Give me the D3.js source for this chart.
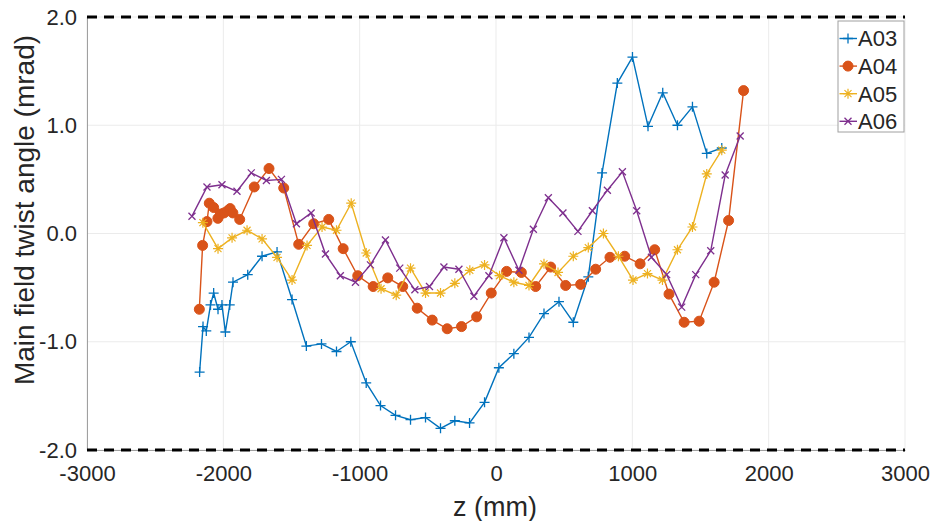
<!DOCTYPE html>
<html><head><meta charset="utf-8">
<script src="https://cdn.jsdelivr.net/npm/d3@7"></script>
<style>body{margin:0;background:#fff}svg{display:block}text{font-family:"Liberation Sans",Arial,sans-serif;fill:#262626}</style>
</head><body><svg id="c" width="935" height="521"></svg>
<script>
const seriesNames = ["A03","A04","A05","A06"];
const colors = ["#0072BD","#D95319","#EDB120","#7E2F8E"];
const xTicks = [-3000,-2000,-1000,0,1000,2000,3000];
const xTickLabels = ["-3000","-2000","-1000","0","1000","2000","3000"];
const yTicks = [-2,-1,0,1,2];
const yTickLabels = ["-2.0","-1.0","0.0","1.0","2.0"];
const limitLines = [2,-2];

const a03z = [-2174,-2149,-2125,-2094,-2071,-2039,-2010,-1985,-1953,-1929,-1821,-1716,-1606,-1496,-1391,-1280,-1170,-1065,-952,-847,-737,-627,-517,-407,-302,-194,-84,21,131,242,352,462,567,677,778,890,1001,1115,1223,1331,1441,1546,1656];
const a03v = [-1.28,-0.86,-0.90,-0.66,-0.55,-0.70,-0.66,-0.91,-0.66,-0.45,-0.38,-0.21,-0.17,-0.61,-1.04,-1.02,-1.09,-1.00,-1.38,-1.59,-1.68,-1.72,-1.70,-1.80,-1.73,-1.75,-1.56,-1.24,-1.11,-0.96,-0.74,-0.63,-0.82,-0.40,0.56,1.39,1.63,0.99,1.30,1.00,1.17,0.74,0.79];

const a04z = [-2176,-2152,-2120,-2103,-2071,-2040,-2020,-1995,-1968,-1950,-1930,-1880,-1773,-1665,-1557,-1447,-1337,-1227,-1121,-1014,-901,-794,-684,-578,-468,-358,-253,-142,-35,78,186,291,401,511,621,731,836,944,1057,1164,1269,1380,1490,1600,1706,1816];
const a04v = [-0.70,-0.11,0.11,0.28,0.24,0.14,0.18,0.19,0.21,0.23,0.19,0.13,0.43,0.60,0.42,-0.10,0.09,0.13,-0.14,-0.39,-0.49,-0.41,-0.49,-0.69,-0.80,-0.88,-0.86,-0.77,-0.55,-0.35,-0.36,-0.49,-0.31,-0.48,-0.47,-0.33,-0.22,-0.21,-0.28,-0.15,-0.56,-0.82,-0.81,-0.45,0.12,1.32];

const a05z = [-2150,-2039,-1936,-1826,-1716,-1606,-1496,-1386,-1276,-1170,-1062,-952,-843,-732,-627,-517,-407,-302,-192,-84,26,131,242,352,455,567,677,788,898,1005,1111,1221,1331,1441,1546,1656];
const a05v = [0.10,-0.14,-0.04,0.03,-0.05,-0.22,-0.43,-0.11,0.06,0.03,0.28,-0.18,-0.51,-0.57,-0.32,-0.55,-0.55,-0.46,-0.34,-0.29,-0.39,-0.45,-0.48,-0.28,-0.36,-0.21,-0.13,0.00,-0.21,-0.43,-0.37,-0.43,-0.15,0.06,0.55,0.77];

const a06z = [-2230,-2120,-2010,-1900,-1795,-1684,-1574,-1464,-1356,-1251,-1142,-1031,-921,-811,-706,-595,-488,-382,-272,-162,-52,58,168,274,384,491,601,707,817,927,1032,1140,1252,1362,1465,1575,1681,1791];
const a06v = [0.16,0.43,0.45,0.39,0.56,0.49,0.50,0.09,0.19,-0.19,-0.39,-0.45,-0.29,-0.06,-0.32,-0.52,-0.49,-0.31,-0.33,-0.58,-0.39,-0.04,-0.34,0.04,0.33,0.19,0.02,0.21,0.40,0.57,0.21,-0.22,-0.38,-0.68,-0.38,-0.16,0.54,0.90];

const zs = [a03z,a04z,a05z,a06z], vs = [a03v,a04v,a05v,a06v];
const markers = ["plus","circle","star","cross"];

const svg = d3.select("#c");
const L=87, R=905, T=17, B=450;
const x = d3.scaleLinear().domain([-3000,3000]).range([L,R]);
const y = d3.scaleLinear().domain([-2,2]).range([B,T]);

// grid
const g = svg.append("g");
g.selectAll("line.gx").data(xTicks).join("line").attr("x1",d=>x(d)).attr("x2",d=>x(d)).attr("y1",T).attr("y2",B).attr("stroke","#ebebeb").attr("stroke-width",1);
g.selectAll("line.gy").data(yTicks).join("line").attr("x1",L).attr("x2",R).attr("y1",d=>y(d)).attr("y2",d=>y(d)).attr("stroke","#ebebeb").attr("stroke-width",1);

// axes
const xa = svg.append("g").attr("transform",`translate(0,${B})`).call(d3.axisBottom(x).tickValues(xTicks).tickFormat((d,i)=>xTickLabels[i]).tickSize(0));
xa.select(".domain").attr("stroke","#8a8a8a").attr("stroke-width",0.8);
xa.selectAll("text").attr("font-size",22).attr("fill","#262626").attr("dy",null).attr("y",31);
const ya = svg.append("g").attr("transform",`translate(${L},0)`).call(d3.axisLeft(y).tickValues(yTicks).tickFormat((d,i)=>yTickLabels[i]).tickSize(0).tickPadding(10));
ya.select(".domain").attr("stroke","#8a8a8a").attr("stroke-width",0.8);
ya.selectAll("text").attr("font-size",22).attr("fill","#262626");

// limit lines
svg.selectAll("line.lim").data(limitLines).join("line").attr("x1",L).attr("x2",R).attr("y1",d=>y(d)).attr("y2",d=>y(d)).attr("stroke","#000").attr("stroke-width",3).attr("stroke-dasharray","10,7");

// series
function drawMarker(sel,type,color){
  if(type==="circle"){sel.append("circle").attr("r",5).attr("fill",color).attr("stroke",color);}
  else if(type==="plus"){sel.append("path").attr("d","M-5,0H5M0,-5V5").attr("stroke",color).attr("stroke-width",1.3).attr("fill","none");}
  else if(type==="cross"){sel.append("path").attr("d","M-3.5,-3.5L3.5,3.5M-3.5,3.5L3.5,-3.5").attr("stroke",color).attr("stroke-width",1.3).attr("fill","none");}
  else if(type==="star"){sel.append("path").attr("d","M-5,0H5M0,-5V5M-3.5,-3.5L3.5,3.5M-3.5,3.5L3.5,-3.5").attr("stroke",color).attr("stroke-width",1.2).attr("fill","none");}
}
const line = d3.line().x(d=>x(d[0])).y(d=>y(d[1]));
seriesNames.forEach((nm,i)=>{
  const pts = zs[i].map((z,k)=>[z,vs[i][k]]);
  const sg = svg.append("g");
  sg.append("path").attr("d",line(pts)).attr("fill","none").attr("stroke",colors[i]).attr("stroke-width",1.4);
  sg.selectAll("g.m").data(pts).join("g").attr("transform",d=>`translate(${x(d[0])},${y(d[1])})`).each(function(){drawMarker(d3.select(this),markers[i],colors[i]);});
});

// axis titles
svg.append("text").attr("x",495).attr("y",516).attr("text-anchor","middle").attr("font-size",27).text("z (mm)");
svg.append("text").attr("transform",`translate(24,210) rotate(-90)`).attr("text-anchor","middle").attr("dy","0.35em").attr("font-size",28).text("Main field twist angle (mrad)");

// legend
const lg = svg.append("g").attr("transform","translate(838,21)");
lg.append("rect").attr("width",66).attr("height",111).attr("fill","#fff").attr("stroke","#a0a0a0").attr("stroke-width",1);
seriesNames.forEach((nm,i)=>{
  const yy = 17.5+i*27.6;
  const r = lg.append("g").attr("transform",`translate(0,${yy})`);
  r.append("line").attr("x1",1.5).attr("x2",19).attr("y1",0).attr("y2",0).attr("stroke",colors[i]).attr("stroke-width",1.4);
  const m = r.append("g").attr("transform","translate(10,0)");
  drawMarker(m,markers[i],colors[i]);
  r.append("text").attr("x",20).attr("y",0).attr("dy","0.36em").attr("font-size",22).text(nm);
});
</script></body></html>
